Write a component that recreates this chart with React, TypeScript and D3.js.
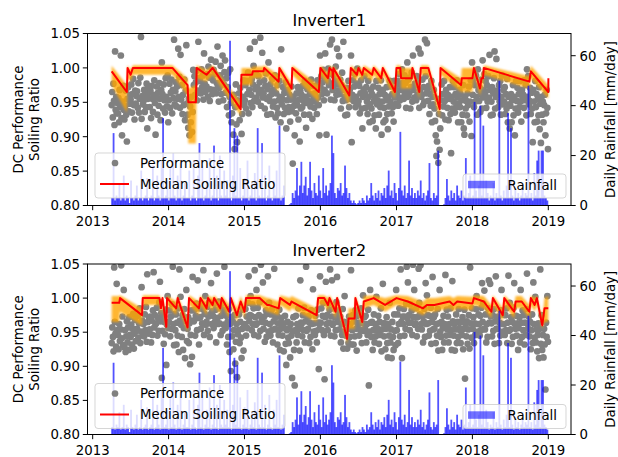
import React from 'react';
import * as d3 from 'd3';

// figure geometry (px)
const W = 618;
const H = 457;
const axLeft = 87.5;
const axRight = 571;
const axTops = [33.5, 264];
const axBottoms = [205.5, 434.5];

// axes
const yearTicks = [2013, 2014, 2015, 2016, 2017, 2018, 2019];
const xYearDomain = [2012.932, 2019.299];
const ratioTicks = [0.8, 0.85, 0.9, 0.95, 1.0, 1.05];
const ratioDomain = [0.8, 1.05];
const rainTicks = [0, 20, 40, 60];
const rainDomain = [0, 68.9];

// daily performance, grouped by month starting April 2013
const perf1: number[][] = [
  [.946, .965, .928, .977, .952, .917, 1.024, .939, .958, .934, .949],
  [.934, .956, .921, .968, .943, 1.018, .927, .902, .951, .974, .939],
  [.925, .944, .967, .932, .893, .955, .972, .937, .948, .961],
  [.954, .976, .935, .962, .984, .946, .925, .967, .948, .959],
  [.966, .942, .978, .935, .955, .986, 1.045, .926, .959, .947],
  [.952, .968, .936, .961, .943, .977, .912, .955, .972, .964],
  [.943, .967, .927, .974, .955, .936, .961, .982, .949, .903],
  [.957, .973, .932, .964, .945, .978, .955, .924, .968, 1.008],
  [.962, .941, .976, .953, .935, .985, .958, .944, .989, .921],
  [.953, .977, .942, .964, .983, .934, .968, .956, 1.041, .947],
  [.966, .979, .944, .973, .955, 1.028, .958, .987, .942, 1.019],
  [.954, .975, .933, .961, .946, .983, .924, .967, 1.033, .948],
  [.932, .913, .955, .902, .944, .921, .958, .907, .936, .997],
  [.975, .988, .961, .979, .996, .953, .967, 1.038, .985, .964],
  [.981, .963, .998, .972, .989, .954, 1.021, .977, .965, .968],
  [.973, .991, .958, 1.002, .986, .952, .969, 1.012, .987, .962],
  [.982, .997, .968, .991, 1.009, .963, .978, 1.031, .974, .951],
  [.971, .989, 1.003, .962, .983, 1.018, .953, .976, .994, 1.011],
  [.964, .985, .943, .972, .993, .931, .958, .998, .949, .921],
  [.934, .957, .903, .961, .882, .943, .976, .918, .892, .953],
  [.945, .963, .924, .971, .951, .904, .933, .958, .982, .946],
  [.953, .975, .941, .981, .962, .993, .934, .968, 1.028, .949],
  [.961, .984, .943, .976, 1.003, .952, 1.038, .969, .991, .957],
  [.972, .951, .988, .963, .979, 1.044, .945, .968, 1.022, .957],
  [.963, .982, .941, .974, .992, .955, .932, .969, 1.008, .958],
  [.952, .976, .933, .962, .984, .944, .968, .951, .989, .928],
  [.963, .942, .975, .934, .953, .981, .958, .921, 1.027, .947],
  [.955, .972, .933, .964, .942, .979, .912, .953, .968, .936],
  [.943, .961, .922, .954, .973, .937, .861, .958, .945, .902],
  [.952, .934, .963, .946, .972, .925, .954, .893, .967, .941],
  [.961, .943, .974, .952, .932, .981, .958, .913, .949, .969],
  [.953, .975, .932, .962, .944, .983, .951, .926, .974, .958],
  [.942, .963, .951, .974, .933, .982, .957, .946, .902, 1.018],
  [.971, .988, .962, .979, .997, .953, .968, 1.021, .986, .903],
  [.963, .982, .999, .975, .991, 1.034, .954, .977, 1.041, .968],
  [.972, .989, .953, .981, 1.002, .961, 1.028, .976, .967, 1.017],
  [.962, .983, .941, .975, .993, .952, 1.038, .968, .958, .931],
  [.953, .971, .932, .964, .981, .943, .968, .955, 1.018, .892],
  [.961, .982, .952, .973, .991, .943, .958, .977, .999, .947],
  [.952, .974, .934, .963, .982, .941, .912, .958, .969, .988],
  [.963, .942, .972, .951, .933, .981, .958, .921, .947, .968],
  [.941, .962, .923, .973, .952, .931, .958, .912, .981, .947],
  [.953, .971, .932, .962, .943, .982, .903, .951, .968, .921],
  [.942, .961, .924, .953, .972, .933, .911, .958, .944, .981],
  [.951, .973, .934, .962, .943, .922, .981, .957, .968, .948],
  [.962, .981, .945, .976, .991, .953, .968, .957, .998, .978],
  [.971, .955, .989, .963, .978, .942, .967, 1.008, .958, .983],
  [.963, .986, .941, .972, .993, .951, 1.018, .968, .957, .977],
  [.975, .953, .988, .961, .979, 1.028, .942, .967, 1.021, .958],
  [.961, .983, .946, .972, .951, 1.041, .988, .963, 1.036, .969],
  [.952, .974, .933, .962, .945, .981, .921, .958, .947, .968],
  [.941, .923, .902, .872, .893, .955, .862, .933, .881, .912],
  [.953, .976, .931, .962, .944, .981, .952, .925, .968, .958],
  [.942, .961, .924, .955, .972, .933, .876, .958, .941, .981],
  [.951, .972, .935, .962, .943, .982, .957, .921, .948, .968],
  [.943, .962, .921, .953, .932, .975, .912, .903, .958, .941],
  [.952, .931, .963, .946, .973, .922, .951, .982, .901, 1.008],
  [.961, .982, .943, .975, .951, .989, .958, .932, .998, .968],
  [.952, .971, .936, .962, .983, .941, 1.011, .957, .968, .991],
  [.963, .981, .942, .975, .951, .988, .957, 1.019, .968, .931],
  [.951, .972, .932, .963, .985, 1.024, .941, .958, 1.013, .967],
  [.962, .943, .975, .951, .981, .932, .958, .989, .947, .968],
  [.951, .972, .933, .962, .941, .984, .921, .958, .947, .912],
  [.945, .962, .921, .953, .975, .931, .958, .902, .941, .981],
  [.952, .971, .935, .962, .943, .981, .951, .922, .968, .957],
  [.961, .942, .982, .953, .975, .931, .998, .958, .988, .947],
  [.952, .971, .933, .964, .941, .892, .968, .951, .921, .981],
  [.943, .962, .922, .955, .931, .972, .911, .948, .891, .958],
  [.932, .951, .921, .946, .961, .902, .934, .968, .942, .882],
];

const perf2: number[][] = [
  [.934, .957, .943, .922, 1.045, .965, .948, .929, 1.021, .953],
  [.946, .925, .962, .937, .954, 1.048, .941, .973, .931, 1.012],
  [.928, .953, .921, .944, .966, .935, .957, .924, .972, .946],
  [.943, .961, .932, .955, .977, .926, .948, .968, .937, .952],
  [.955, .974, .942, .963, .985, .934, .951, 1.016, .967, .945],
  [.962, .944, .976, .953, .987, .936, 1.035, .965, .948, .971],
  [.954, .973, .935, .967, .946, .982, 1.038, .957, .975, .962],
  [.963, .986, .945, .971, .952, .994, 1.024, .966, .978, .883],
  [.952, .974, .933, .965, .947, .983, .902, .961, 1.003, .956],
  [.965, .982, .944, .973, .955, .991, 1.046, .962, .931, .977],
  [.953, .976, .932, .964, .945, .985, .921, 1.042, .967, 1.002],
  [.961, .943, .975, .924, .956, .984, .912, .966, 1.012, .937],
  [.955, .972, .934, .963, .903, .946, .982, .914, 1.031, .967],
  [.966, .983, .945, .974, .992, .953, 1.026, .971, .932, .985],
  [.972, .955, .991, .963, .984, 1.041, .946, .977, 1.003, .961],
  [.965, .987, .952, .973, .994, .943, .976, 1.022, .962, .981],
  [.974, .956, .992, .965, .983, .935, 1.036, .971, .962, .995],
  [.963, .985, .946, .974, .992, .952, .977, .961, 1.046, .983],
  [.956, .974, .932, .965, .943, .984, .921, .962, .893, .972],
  [.944, .966, .925, .953, .975, .904, .936, .962, .884, .947],
  [.953, .976, .934, .965, .942, .912, .955, .983, .923, .961],
  [.962, .984, .945, .973, .956, .993, 1.032, .966, .975, 1.003],
  [.974, .953, .991, .962, .985, .946, 1.041, .972, .961, 1.012],
  [.963, .986, .944, .975, .994, .952, 1.049, .971, .965, 1.023],
  [.955, .973, .936, .964, .982, .943, .977, 1.032, .951, .993],
  [.962, .945, .976, .953, .984, .935, .966, 1.043, .955, .972],
  [.954, .975, .932, .963, .946, .983, .924, .955, .971, .962],
  [.945, .963, .922, .956, .974, .933, .902, .953, .965, .942],
  [.934, .956, .913, .962, .945, .883, .951, .972, .924, .872],
  [.953, .974, .935, .962, .946, .985, .955, .923, 1.026, .964],
  [.962, .944, .975, .953, .986, .935, .966, 1.046, .952, .973],
  [.955, .973, .934, .964, .943, .982, .962, .925, 1.013, .951],
  [.963, .946, .974, .952, .935, .983, .964, .896, .955, 1.032],
  [.964, .985, .953, .974, .993, .946, .881, .972, 1.024, .962],
  [.975, .953, .992, .964, .983, 1.042, .945, .973, 1.026, .961],
  [.963, .985, .944, .972, .953, .994, 1.031, .965, .976, .982],
  [.954, .973, .935, .962, .946, .984, .926, .965, 1.003, .951],
  [.945, .964, .926, .955, .934, .973, .943, .962, 1.041, .932],
  [.953, .975, .932, .966, .944, .982, .955, .923, .974, .961],
  [.964, .945, .976, .953, .985, .934, .963, 1.004, .952, .972],
  [.955, .974, .935, .962, .946, .983, .872, .951, 1.012, .964],
  [.943, .965, .924, .953, .976, .935, .962, .944, 1.002, .956],
  [.952, .974, .933, .965, .946, .985, .922, .954, 1.021, .963],
  [.944, .963, .925, .955, .972, .934, .913, .962, .945, .993],
  [.935, .954, .912, .965, .943, .924, .976, .952, .931, 1.012],
  [.953, .976, .934, .962, .985, .944, 1.042, .965, .912, .973],
  [.962, .984, .945, .973, .955, .992, 1.046, .971, 1.023, .964],
  [.975, .953, .991, .964, .982, .946, 1.049, .972, 1.012, .961],
  [.963, .985, .944, .972, .955, 1.043, .993, .976, 1.048, .962],
  [.954, .973, .935, .966, .984, .943, 1.022, .962, 1.004, .975],
  [.963, .945, .974, .952, .986, .933, .965, 1.031, .954, .972],
  [.955, .976, .934, .962, .945, .984, .923, .963, 1.012, .951],
  [.943, .965, .924, .956, .974, .935, .962, 1.034, .945, .983],
  [.954, .973, .935, .962, .946, .985, .953, .924, 1.025, .966],
  [.945, .962, .923, .954, .976, .934, .965, .943, .984, .956],
  [.953, .934, .965, .946, .972, .925, .955, .983, .882, .962],
  [.944, .966, .933, .954, .975, .926, 1.045, .963, .942, .985],
  [.955, .972, .934, .963, .946, .984, 1.003, .962, .951, .976],
  [.962, .945, .974, .953, .986, 1.022, .965, .992, .955, 1.011],
  [.954, .976, .935, .962, .943, .985, 1.026, .964, 1.021, .973],
  [.963, .944, .975, .952, .984, .933, .966, 1.032, .955, .972],
  [.955, .973, .934, .964, .945, .982, 1.012, .962, .951, .976],
  [.962, .946, .975, .953, .985, .934, .964, 1.033, .952, .993],
  [.954, .972, .933, .965, .943, .986, 1.022, .962, .955, .974],
  [.945, .963, .924, .956, .972, .935, 1.012, .964, .943, .982],
  [.953, .975, .932, .964, .946, .984, 1.036, .962, .955, .973],
  [.944, .965, .925, .953, .976, .934, 1.023, .962, .942, 1.002],
  [.935, .954, .922, .946, .963, .912, .955, 1.042, .933, .975],
  [.924, .946, .913, .955, .932, .866, .964, .943, 1.003, .936],
];

// weekly rainfall [mm/day], first week starting 2013-04-01
const rainStart = Date.UTC(2013, 3, 1);
const rainWeekly = [
  3, 29, 2, 4, 3, 9, 2, 3, 12, 2, 4, 3, 1, 10, 3, 2, 4, 8, 2, 3, 14, 2, 3, 4, 11, 2,
  3, 4, 16, 2, 3, 12, 4, 2, 18, 35, 3, 4, 10, 2, 15, 3, 21, 4, 2, 12, 3, 17, 2, 4, 9, 3,
  3, 14, 2, 4, 18, 3, 2, 12, 25, 3, 16, 2, 4, 10, 3, 19, 2, 4, 24, 3, 12, 2, 20, 4, 3, 14,
  4, 10, 3, 66, 2, 12, 31, 4, 28, 3, 15, 2, 4, 11, 3, 18, 2, 4, 9, 3, 13, 2, 31, 4, 3, 25,
  3, 12, 2, 4, 16, 3, 2, 10, 4, 14, 3, 32, 2, 4, 8, 0, 0, 0, 0.5, 1, 5, 3, 6, 15, 4, 8,
  17.5, 5, 8, 11.5, 4, 7, 17.5, 6, 3, 9, 5, 4, 12, 6, 3, 15, 5, 8, 4, 6, 9, 28, 21, 5, 3, 7,
  6, 9, 4, 5, 16, 7, 3, 5, 2, 1, 2, 1, 0.5, 1, 2, 1, 3, 2, 1, 4, 2, 3, 9, 4, 2, 5,
  3, 6, 2, 5, 4, 7, 3, 8, 14, 4, 6, 3, 9, 5, 2, 7, 29.5, 6, 4, 8, 3, 5, 18, 4, 7, 3,
  5, 3, 6, 4, 10, 3, 5, 2, 4, 6, 17, 3, 2, 5, 3, 4, 22, 0, 0, 0, 0.5, 3, 10.6, 4, 2, 6,
  3, 5, 2, 8, 4, 3, 6, 2, 4, 19, 3, 5, 12, 3, 4, 41.5, 6, 3, 8, 40, 4, 32, 3, 10, 5, 2,
  4, 3, 9, 2, 5, 3, 50, 4, 2, 6, 3, 8, 37, 3, 31, 4, 2, 7, 3, 5, 2, 4, 9, 3, 5, 4,
  48, 3, 5, 2, 13, 4, 18, 22, 3, 22, 22, 4, 3, 2,
];

// median soiling ratio with its confidence band (decimal years)
const soil1Year = [2013.25, 2013.45, 2013.46, 2013.5, 2013.53, 2014.05, 2014.25, 2014.26, 2014.36, 2014.37,
  2014.5, 2014.58, 2014.95, 2014.96, 2015.1, 2015.11, 2015.25, 2015.26, 2015.45, 2015.46,
  2015.62, 2015.63, 2015.98, 2016.0, 2016.1, 2016.12, 2016.16, 2016.165, 2016.17, 2016.38,
  2016.4, 2016.48, 2016.5, 2016.55, 2016.57, 2016.68, 2016.7, 2016.8, 2016.82, 2016.98,
  2017.0, 2017.05, 2017.06, 2017.2, 2017.21, 2017.3, 2017.32, 2017.42, 2017.57, 2017.58,
  2017.85, 2017.86, 2018.0, 2018.02, 2018.1, 2018.12, 2018.14, 2018.15, 2018.75, 2018.77,
  2019.0, 2019.001];
const soil1Med = [0.995, 0.965, 1.0, 0.99, 1.0, 1.0, 0.975, 0.95, 0.95, 1.0,
  0.99, 1.0, 0.94, 0.99, 0.99, 0.995, 0.995, 1.0, 0.98, 1.0,
  0.97, 1.0, 0.965, 1.0, 0.985, 1.0, 0.995, 0.97, 1.0, 0.96,
  1.0, 0.99, 1.0, 0.99, 1.0, 0.99, 1.0, 0.985, 1.0, 0.965,
  1.0, 1.0, 0.985, 0.985, 1.0, 0.965, 1.0, 1.0, 0.94, 1.0,
  0.975, 0.985, 0.985, 1.0, 0.97, 0.985, 0.985, 1.0, 0.98, 0.995,
  0.965, 0.985];
const soil1Low = [0.975, 0.935, 0.985, 0.98, 0.99, 0.99, 0.96, 0.89, 0.89, 0.985,
  0.98, 0.99, 0.93, 0.975, 0.975, 0.985, 0.985, 0.99, 0.965, 0.99,
  0.955, 0.99, 0.95, 0.99, 0.975, 0.99, 0.985, 0.96, 0.99, 0.945,
  0.99, 0.98, 0.99, 0.98, 0.99, 0.98, 0.99, 0.975, 0.99, 0.955,
  0.99, 0.99, 0.97, 0.97, 0.99, 0.955, 0.99, 0.99, 0.925, 0.99,
  0.965, 0.965, 0.965, 0.99, 0.96, 0.97, 0.97, 0.99, 0.97, 0.985,
  0.955, 0.955];
const soil1High = [1.003, 0.975, 1.004, 0.997, 1.004, 1.004, 0.985, 0.97, 0.975, 1.004,
  0.997, 1.004, 0.95, 1.0, 1.0, 1.002, 1.002, 1.004, 0.99, 1.004,
  0.978, 1.004, 0.975, 1.004, 0.993, 1.004, 1.0, 0.98, 1.004, 0.968,
  1.004, 0.997, 1.004, 0.997, 1.004, 0.997, 1.004, 0.993, 1.004, 0.973,
  1.004, 1.004, 1.0, 1.0, 1.004, 0.973, 1.004, 1.004, 0.95, 1.004,
  0.985, 1.0, 1.0, 1.004, 0.978, 0.993, 0.993, 1.004, 0.988, 1.003,
  0.975, 1.002];

const soil2Year = [2013.25, 2013.35, 2013.36, 2013.65, 2013.66, 2013.88, 2013.9, 2013.92, 2013.97, 2013.98,
  2014.1, 2014.12, 2014.25, 2014.27, 2014.4, 2014.42, 2014.5, 2014.52, 2014.58, 2014.6,
  2014.68, 2014.7, 2014.8, 2014.82, 2014.9, 2014.95, 2015.0, 2015.02, 2015.2, 2015.3,
  2015.32, 2015.45, 2015.47, 2015.6, 2015.62, 2015.95, 2015.97, 2016.05, 2016.1, 2016.12,
  2016.2, 2016.22, 2016.35, 2016.37, 2016.45, 2016.46, 2016.55, 2016.57, 2016.7, 2016.85,
  2017.0, 2017.15, 2017.35, 2017.4, 2017.5, 2017.7, 2017.75, 2017.8, 2018.0, 2018.02,
  2018.15, 2018.25, 2018.27, 2018.4, 2018.42, 2018.55, 2018.57, 2018.65, 2018.75, 2018.77,
  2018.82, 2018.85, 2018.92, 2018.95, 2019.0];
const soil2Med = [0.993, 0.993, 1.0, 0.975, 1.0, 1.0, 0.985, 1.0, 0.958, 1.0,
  0.985, 1.0, 0.957, 1.0, 0.985, 1.0, 0.985, 1.0, 0.99, 1.0,
  0.985, 1.0, 0.98, 1.0, 0.975, 0.995, 0.98, 1.0, 1.0, 0.99,
  0.99, 0.985, 1.0, 0.99, 0.995, 0.975, 1.0, 1.0, 0.99, 1.0,
  0.98, 1.0, 0.94, 0.97, 0.97, 1.0, 0.965, 0.995, 1.0, 0.99,
  1.0, 0.995, 0.985, 0.99, 0.99, 0.995, 0.99, 0.995, 0.992, 1.0,
  0.995, 0.98, 1.0, 0.975, 1.0, 0.98, 0.995, 0.995, 0.98, 1.0,
  0.99, 1.0, 0.96, 0.985, 0.985];
const soil2Low = [0.965, 0.965, 0.98, 0.96, 0.99, 0.99, 0.975, 0.99, 0.95, 0.99,
  0.975, 0.99, 0.95, 0.99, 0.975, 0.99, 0.975, 0.99, 0.98, 0.99,
  0.975, 0.99, 0.97, 0.99, 0.965, 0.985, 0.97, 0.99, 0.99, 0.98,
  0.98, 0.975, 0.99, 0.98, 0.985, 0.965, 0.99, 0.99, 0.98, 0.99,
  0.97, 0.99, 0.932, 0.955, 0.955, 0.99, 0.955, 0.985, 0.99, 0.98,
  0.99, 0.985, 0.975, 0.98, 0.98, 0.985, 0.98, 0.985, 0.982, 0.99,
  0.985, 0.97, 0.99, 0.965, 0.99, 0.97, 0.985, 0.985, 0.97, 0.99,
  0.98, 0.99, 0.955, 0.965, 0.965];
const soil2High = [1.003, 1.003, 1.004, 0.985, 1.004, 1.004, 0.995, 1.004, 0.968, 1.004,
  0.995, 1.004, 0.967, 1.004, 0.995, 1.004, 0.995, 1.004, 1.0, 1.004,
  0.995, 1.004, 0.99, 1.004, 0.985, 1.003, 0.99, 1.004, 1.004, 1.0,
  1.0, 0.995, 1.004, 1.0, 1.003, 0.985, 1.004, 1.004, 1.0, 1.004,
  0.99, 1.004, 0.95, 0.985, 0.985, 1.004, 0.975, 1.003, 1.004, 1.0,
  1.004, 1.003, 0.995, 1.0, 1.0, 1.003, 1.0, 1.003, 1.002, 1.004,
  1.003, 0.99, 1.004, 0.985, 1.004, 0.99, 1.003, 1.003, 0.99, 1.004,
  1.0, 1.004, 0.97, 1.0, 1.003];

const FONT = 'DejaVu Sans, sans-serif';
const FS = 13.3;

const fromYear = (y: number) => {
  const yr = Math.floor(y);
  const a = Date.UTC(yr, 0, 1);
  const b = Date.UTC(yr + 1, 0, 1);
  return new Date(a + (y - yr) * (b - a));
};

interface PanelProps {
  idx: number;
  title: string;
  perf: number[][];
  soilYear: number[];
  soilMed: number[];
  soilLow: number[];
  soilHigh: number[];
}

const Panel: React.FC<PanelProps> = ({ idx, title, perf, soilYear, soilMed, soilLow, soilHigh }) => {
  const top = axTops[idx];
  const bottom = axBottoms[idx];
  const x = d3.scaleUtc().domain(xYearDomain.map(fromYear)).range([axLeft, axRight]);
  const y = d3.scaleLinear().domain(ratioDomain).range([bottom, top]);
  const yRain = d3.scaleLinear().domain(rainDomain).range([bottom, top]);

  const points = perf.flatMap((vals, k) => {
    const yy = 2013 + Math.floor((3 + k) / 12);
    const mo = (3 + k) % 12;
    const a = Date.UTC(yy, mo, 1);
    const b = Date.UTC(yy, mo + 1, 1);
    return vals.map((v, j) => ({ t: new Date(a + ((j + 0.5) / vals.length) * (b - a)), v }));
  });

  const line = d3.line<number>()
    .x((_, i) => x(fromYear(soilYear[i])))
    .y(d => y(d));
  const band = d3.area<number>()
    .x((_, i) => x(fromYear(soilYear[i])))
    .y0((_, i) => y(soilLow[i]))
    .y1((_, i) => y(soilHigh[i]));

  const clipId = `clip${idx}`;
  const blurId = `blur${idx}`;
  const midY = (top + bottom) / 2;

  return (
    <g>
      <defs>
        <clipPath id={clipId}>
          <rect x={axLeft} y={top} width={axRight - axLeft} height={bottom - top} />
        </clipPath>
        <filter id={blurId} x="-5%" y="-20%" width="110%" height="140%">
          <feGaussianBlur stdDeviation="1.3" />
        </filter>
      </defs>

      <g clipPath={`url(#${clipId})`}>
        {points.map((p, i) => (
          <circle key={i} cx={x(p.t)} cy={y(p.v)} r={3.35} fill="#808080" />
        ))}
        <path d={band(soilMed) || ''} fill="#ffa500" opacity={0.8} filter={`url(#${blurId})`} />
        <path d={line(soilMed) || ''} fill="none" stroke="#ff0000" strokeWidth={2} strokeLinejoin="round" />
        {rainWeekly.map((mm, i) => {
          const t = new Date(rainStart + (i * 7 + 3.5) * 864e5);
          const yt = yRain(mm);
          return <rect key={i} x={x(t) - 0.9} y={yt} width={1.8} height={bottom - yt} fill="#0000ff" opacity={0.68} />;
        })}
      </g>

      {/* spines */}
      <rect x={axLeft} y={top} width={axRight - axLeft} height={bottom - top} fill="none" stroke="#000" strokeWidth={1} />

      {/* x ticks */}
      {yearTicks.map(yr => {
        const px = x(new Date(Date.UTC(yr, 0, 1)));
        return (
          <g key={yr}>
            <line x1={px} x2={px} y1={bottom} y2={bottom + 4.7} stroke="#000" strokeWidth={1} />
            <text x={px} y={bottom + 20.5} textAnchor="middle" fontSize={FS} fontFamily={FONT}>{yr}</text>
          </g>
        );
      })}

      {/* left ticks */}
      {ratioTicks.map(v => (
        <g key={v}>
          <line x1={axLeft - 4.7} x2={axLeft} y1={y(v)} y2={y(v)} stroke="#000" strokeWidth={1} />
          <text x={axLeft - 7.5} y={y(v) + 4.8} textAnchor="end" fontSize={FS} fontFamily={FONT}>{v.toFixed(2)}</text>
        </g>
      ))}

      {/* right ticks */}
      {rainTicks.map(v => (
        <g key={v}>
          <line x1={axRight} x2={axRight + 4.7} y1={yRain(v)} y2={yRain(v)} stroke="#000" strokeWidth={1} />
          <text x={axRight + 8.5} y={yRain(v) + 4.8} fontSize={FS} fontFamily={FONT}>{v}</text>
        </g>
      ))}

      <text x={(axLeft + axRight) / 2} y={top - 7.7} textAnchor="middle" fontSize={16} fontFamily={FONT}>{title}</text>

      <g transform={`translate(23,${midY}) rotate(-90)`} fontSize={FS} fontFamily={FONT} textAnchor="middle">
        <text x={0} y={0}>DC Performance</text>
        <text x={0} y={16}>Soiling Ratio</text>
      </g>
      <text transform={`translate(614.5,${midY}) rotate(-90)`} textAnchor="middle" fontSize={FS} fontFamily={FONT}>
        Daily Rainfall [mm/day]
      </text>

      {/* legend: performance / median */}
      <g fontSize={FS} fontFamily={FONT}>
        <rect x={95} y={top + 119.5} width={190} height={45} rx={3} fill="#fff" fillOpacity={0.8} stroke="#cccccc" strokeOpacity={0.8} />
        <circle cx={115} cy={top + 129.5} r={3.35} fill="#808080" />
        <text x={140} y={top + 134.3}>Performance</text>
        <line x1={100} x2={129} y1={top + 150.5} y2={top + 150.5} stroke="#ff0000" strokeWidth={2} />
        <text x={140} y={top + 155.3}>Median Soiling Ratio</text>
      </g>

      {/* legend: rainfall */}
      <g fontSize={FS} fontFamily={FONT}>
        <rect x={463} y={top + 140.5} width={103} height={24} rx={3} fill="#fff" fillOpacity={0.8} stroke="#cccccc" strokeOpacity={0.8} />
        <rect x={468} y={top + 147.3} width={27} height={7.5} fill="#0000ff" opacity={0.55} />
        <text x={507.5} y={top + 156.3}>Rainfall</text>
      </g>
    </g>
  );
};

export default function App() {
  return (
    <svg width={W} height={H} viewBox={`0 0 ${W} ${H}`} style={{ position: 'absolute', left: 0, top: 0, background: '#fff' }}>
      <rect width={W} height={H} fill="#fff" />
      <Panel idx={0} title="Inverter1" perf={perf1} soilYear={soil1Year} soilMed={soil1Med} soilLow={soil1Low} soilHigh={soil1High} />
      <Panel idx={1} title="Inverter2" perf={perf2} soilYear={soil2Year} soilMed={soil2Med} soilLow={soil2Low} soilHigh={soil2High} />
    </svg>
  );
}
